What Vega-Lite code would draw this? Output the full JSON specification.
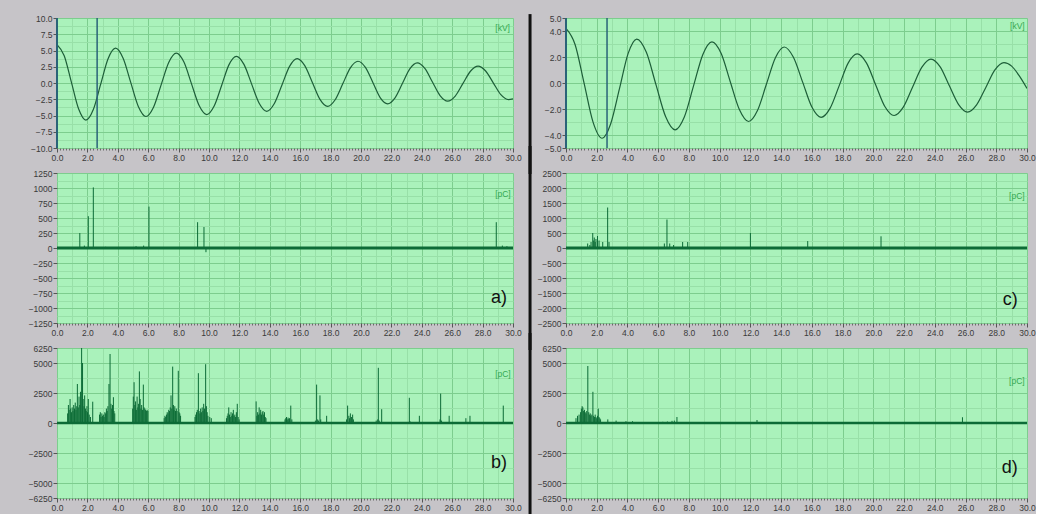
{
"$schema":"https://vega.github.io/schema/vega-lite/v6.json",
"background":"#c6c4c8",
"padding":{"left":28,"top":12,"right":0,"bottom":0},
"config":{"view":{"fill":"#aaf2bb","stroke":null},"axis":{"labelFont":"Liberation Sans","labelFontSize":8.5,"labelColor":"#3a3a3a"},"text":{"font":"Liberation Sans"}},
"datasets":{
"waveL":[{"t":0,"v":5.9},{"t":0.475,"v":4.2},{"t":0.95,"v":0.1},{"t":1.425,"v":-4.0},{"t":1.9,"v":-5.7},{"t":2.39,"v":-4.08},{"t":2.875,"v":-0.18},{"t":3.36,"v":3.73},{"t":3.85,"v":5.35},{"t":4.35,"v":3.81},{"t":4.85,"v":0.1},{"t":5.35,"v":-3.61},{"t":5.85,"v":-5.15},{"t":6.35,"v":-3.72},{"t":6.85,"v":-0.28},{"t":7.35,"v":3.17},{"t":7.85,"v":4.6},{"t":8.35,"v":3.22},{"t":8.85,"v":-0.13},{"t":9.35,"v":-3.47},{"t":9.85,"v":-4.85},{"t":10.34,"v":-3.54},{"t":10.83,"v":-0.38},{"t":11.31,"v":2.79},{"t":11.8,"v":4.1},{"t":12.3,"v":2.86},{"t":12.8,"v":-0.13},{"t":13.3,"v":-3.11},{"t":13.8,"v":-4.35},{"t":14.3,"v":-3.16},{"t":14.8,"v":-0.3},{"t":15.3,"v":2.56},{"t":15.8,"v":3.75},{"t":16.3,"v":2.67},{"t":16.8,"v":0.08},{"t":17.3,"v":-2.52},{"t":17.8,"v":-3.6},{"t":18.3,"v":-2.58},{"t":18.8,"v":-0.13},{"t":19.3,"v":2.33},{"t":19.8,"v":3.35},{"t":20.29,"v":2.39},{"t":20.78,"v":0.08},{"t":21.26,"v":-2.24},{"t":21.75,"v":-3.2},{"t":22.24,"v":-2.28},{"t":22.73,"v":-0.05},{"t":23.21,"v":2.18},{"t":23.7,"v":3.1},{"t":24.2,"v":2.24},{"t":24.7,"v":0.15},{"t":25.2,"v":-1.94},{"t":25.7,"v":-2.8},{"t":26.2,"v":-2.01},{"t":26.7,"v":-0.1},{"t":27.2,"v":1.81},{"t":27.7,"v":2.6},{"t":28.2,"v":1.85},{"t":28.7,"v":0.03},{"t":29.2,"v":-1.8},{"t":29.7,"v":-2.55},{"t":30,"v":-2.45}],
"waveR":[{"t":0,"v":4.2},{"t":0.59,"v":2.96},{"t":1.18,"v":-0.03},{"t":1.76,"v":-3.01},{"t":2.35,"v":-4.25},{"t":2.91,"v":-3.13},{"t":3.48,"v":-0.44},{"t":4.04,"v":2.26},{"t":4.6,"v":3.38},{"t":5.23,"v":2.36},{"t":5.85,"v":-0.11},{"t":6.48,"v":-2.58},{"t":7.1,"v":-3.6},{"t":7.7,"v":-2.61},{"t":8.3,"v":-0.22},{"t":8.9,"v":2.18},{"t":9.5,"v":3.17},{"t":10.1,"v":2.27},{"t":10.69,"v":0.1},{"t":11.29,"v":-2.06},{"t":11.88,"v":-2.96},{"t":12.46,"v":-2.12},{"t":13.04,"v":-0.1},{"t":13.62,"v":1.93},{"t":14.2,"v":2.77},{"t":14.8,"v":1.98},{"t":15.4,"v":0.07},{"t":16.0,"v":-1.85},{"t":16.6,"v":-2.64},{"t":17.19,"v":-1.93},{"t":17.78,"v":-0.2},{"t":18.36,"v":1.53},{"t":18.95,"v":2.24},{"t":19.55,"v":1.55},{"t":20.15,"v":-0.13},{"t":20.75,"v":-1.81},{"t":21.35,"v":-2.5},{"t":21.95,"v":-1.86},{"t":22.55,"v":-0.33},{"t":23.15,"v":1.2},{"t":23.75,"v":1.84},{"t":24.35,"v":1.24},{"t":24.94,"v":-0.2},{"t":25.54,"v":-1.64},{"t":26.13,"v":-2.24},{"t":26.72,"v":-1.68},{"t":27.32,"v":-0.34},{"t":27.91,"v":1.01},{"t":28.5,"v":1.57},{"t":29.0,"v":1.3},{"t":29.5,"v":0.55},{"t":30,"v":-0.42}],
"spA":[{"t":1.5,"v":250},{"t":1.8,"v":40},{"t":2.06,"v":530},{"t":2.39,"v":1010},{"t":3.2,"v":20},{"t":5.2,"v":30},{"t":5.7,"v":40},{"t":6.05,"v":690},{"t":9.25,"v":430},{"t":9.67,"v":350},{"t":9.8,"v":-70},{"t":28.9,"v":430},{"t":29.3,"v":40},{"t":29.6,"v":30}],
"spC":[{"t":1.41,"v":150},{"t":1.55,"v":100},{"t":1.63,"v":200},{"t":1.74,"v":500},{"t":1.8,"v":250},{"t":1.84,"v":350},{"t":1.9,"v":200},{"t":1.95,"v":300},{"t":2.05,"v":400},{"t":2.15,"v":250},{"t":2.39,"v":200},{"t":2.71,"v":1350},{"t":2.8,"v":200},{"t":6.4,"v":150},{"t":6.57,"v":950},{"t":6.75,"v":150},{"t":7.0,"v":100},{"t":7.59,"v":200},{"t":7.92,"v":200},{"t":12.0,"v":500},{"t":15.73,"v":230},{"t":20.5,"v":390},{"t":22.1,"v":40}],
"spB":[{"t":0.7,"v":800},{"t":0.75,"v":1500},{"t":0.8,"v":1100},{"t":0.86,"v":2000},{"t":0.9,"v":1200},{"t":0.95,"v":900},{"t":1.0,"v":1300},{"t":1.05,"v":1000},{"t":1.1,"v":1500},{"t":1.15,"v":1200},{"t":1.2,"v":1700},{"t":1.25,"v":1100},{"t":1.3,"v":1400},{"t":1.34,"v":3250},{"t":1.4,"v":1300},{"t":1.45,"v":2200},{"t":1.5,"v":1500},{"t":1.55,"v":2600},{"t":1.62,"v":6500},{"t":1.68,"v":5000},{"t":1.72,"v":2000},{"t":1.78,"v":1400},{"t":1.82,"v":2300},{"t":1.88,"v":1200},{"t":1.92,"v":1000},{"t":1.97,"v":1400},{"t":2.01,"v":900},{"t":2.06,"v":2000},{"t":2.12,"v":700},{"t":2.2,"v":500},{"t":2.35,"v":1775},
{"t":2.8,"v":700},{"t":2.85,"v":900},{"t":2.9,"v":500},{"t":2.95,"v":800},{"t":3.0,"v":600},{"t":3.05,"v":700},{"t":3.1,"v":500},{"t":3.15,"v":900},{"t":3.2,"v":800},{"t":3.25,"v":1200},{"t":3.3,"v":1000},{"t":3.35,"v":1400},{"t":3.42,"v":3250},{"t":3.49,"v":5750},{"t":3.55,"v":1600},{"t":3.6,"v":1200},{"t":3.65,"v":1500},{"t":3.71,"v":2150},{"t":3.75,"v":1000},{"t":3.8,"v":800},
{"t":4.98,"v":1200},{"t":5.02,"v":2200},{"t":5.07,"v":3400},{"t":5.12,"v":1500},{"t":5.17,"v":1800},{"t":5.22,"v":1100},{"t":5.27,"v":2200},{"t":5.32,"v":1300},{"t":5.37,"v":1600},{"t":5.42,"v":4300},{"t":5.47,"v":2000},{"t":5.52,"v":1200},{"t":5.57,"v":1500},{"t":5.62,"v":1100},{"t":5.68,"v":3200},{"t":5.73,"v":1300},{"t":5.78,"v":1200},{"t":5.83,"v":1100},{"t":5.88,"v":1000},{"t":5.93,"v":1100},{"t":5.98,"v":1000},
{"t":7.05,"v":400},{"t":7.1,"v":600},{"t":7.15,"v":500},{"t":7.2,"v":700},{"t":7.25,"v":900},{"t":7.3,"v":800},{"t":7.35,"v":1100},{"t":7.4,"v":1000},{"t":7.45,"v":1300},{"t":7.5,"v":2300},{"t":7.55,"v":1200},{"t":7.61,"v":4700},{"t":7.66,"v":1500},{"t":7.7,"v":1100},{"t":7.75,"v":1400},{"t":7.8,"v":1000},{"t":7.85,"v":1200},{"t":7.9,"v":1000},{"t":7.98,"v":4350},{"t":8.03,"v":900},{"t":8.08,"v":800},{"t":8.13,"v":600},
{"t":9.08,"v":500},{"t":9.13,"v":700},{"t":9.18,"v":900},{"t":9.23,"v":1100},{"t":9.3,"v":4150},{"t":9.35,"v":1000},{"t":9.4,"v":800},{"t":9.45,"v":1200},{"t":9.5,"v":900},{"t":9.55,"v":1300},{"t":9.6,"v":1000},{"t":9.65,"v":1600},{"t":9.7,"v":1200},{"t":9.78,"v":4900},{"t":9.83,"v":1400},{"t":9.88,"v":900},{"t":9.93,"v":600},{"t":10.05,"v":500},{"t":10.15,"v":400},
{"t":11.15,"v":400},{"t":11.2,"v":600},{"t":11.25,"v":800},{"t":11.3,"v":1300},{"t":11.35,"v":700},{"t":11.4,"v":500},{"t":11.45,"v":900},{"t":11.5,"v":600},{"t":11.55,"v":800},{"t":11.6,"v":1100},{"t":11.65,"v":600},{"t":11.7,"v":700},{"t":11.75,"v":500},{"t":11.8,"v":900},{"t":11.86,"v":1600},{"t":11.92,"v":500},{"t":11.98,"v":300},
{"t":13.1,"v":1800},{"t":13.15,"v":600},{"t":13.2,"v":900},{"t":13.25,"v":700},{"t":13.3,"v":1300},{"t":13.35,"v":800},{"t":13.4,"v":1100},{"t":13.45,"v":700},{"t":13.5,"v":900},{"t":13.55,"v":1000},{"t":13.6,"v":700},{"t":13.65,"v":900},{"t":13.7,"v":500},{"t":13.75,"v":400},
{"t":15.0,"v":300},{"t":15.05,"v":400},{"t":15.1,"v":500},{"t":15.15,"v":300},{"t":15.2,"v":450},{"t":15.25,"v":350},{"t":15.3,"v":400},{"t":15.38,"v":1450},{"t":15.45,"v":300},
{"t":17.0,"v":200},{"t":17.08,"v":3200},{"t":17.15,"v":300},{"t":17.2,"v":200},{"t":17.3,"v":2300},{"t":17.35,"v":300},{"t":17.74,"v":600},
{"t":19.05,"v":300},{"t":19.12,"v":1450},{"t":19.2,"v":600},{"t":19.25,"v":400},{"t":19.3,"v":800},{"t":19.38,"v":500},{"t":19.45,"v":700},{"t":19.5,"v":300},
{"t":21.0,"v":200},{"t":21.1,"v":300},{"t":21.14,"v":4600},{"t":21.2,"v":200},{"t":21.36,"v":1150},
{"t":23.18,"v":2100},{"t":23.22,"v":150},{"t":23.84,"v":600},{"t":25.2,"v":300},{"t":25.24,"v":2450},{"t":25.3,"v":200},{"t":25.8,"v":600},{"t":26.9,"v":400},{"t":27.17,"v":600},{"t":29.36,"v":1450}],
"spD":[{"t":0.65,"v":400},{"t":0.75,"v":600},{"t":0.85,"v":700},{"t":0.95,"v":900},{"t":1.0,"v":1200},{"t":1.05,"v":1400},{"t":1.1,"v":1300},{"t":1.15,"v":1000},{"t":1.2,"v":1100},{"t":1.25,"v":900},{"t":1.3,"v":800},{"t":1.35,"v":1000},{"t":1.42,"v":4750},{"t":1.48,"v":900},{"t":1.52,"v":700},{"t":1.58,"v":800},{"t":1.62,"v":600},{"t":1.68,"v":700},{"t":1.75,"v":2600},{"t":1.8,"v":600},{"t":1.85,"v":500},{"t":1.9,"v":700},{"t":1.95,"v":500},{"t":2.0,"v":400},{"t":2.05,"v":600},{"t":2.1,"v":1200},{"t":2.15,"v":500},{"t":2.2,"v":400},{"t":2.25,"v":300},{"t":2.72,"v":300},{"t":3.26,"v":200},{"t":3.9,"v":150},{"t":4.33,"v":150},{"t":6.3,"v":100},{"t":6.6,"v":120},{"t":6.9,"v":180},{"t":7.05,"v":200},{"t":7.22,"v":500},{"t":12.43,"v":250},{"t":25.8,"v":480}]
},
"columns":2,
"spacing":{"row":25,"column":53},
"bounds":"flush",
"concat":[
{"width":456,"height":130,"resolve":{"axis":{"x":"independent","y":"independent"}},
"layer":[
{"data":{"name":"waveL"},"mark":{"type":"line","opacity":0},"encoding":{
"x":{"field":"t","type":"quantitative","scale":{"domain":[0,30],"nice":false,"zero":false},"axis":{"orient":"bottom","title":null,"values":[1,3,5,7,9,11,13,15,17,19,21,23,25,27,29],"grid":true,"gridColor":"#98e0a8","labels":false,"ticks":false,"domain":false}},
"y":{"field":"v","type":"quantitative","scale":{"domain":[-10,10],"nice":false,"zero":false},"axis":{"orient":"left","title":null,"values":[8.75,6.25,3.75,1.25,-1.25,-3.75,-6.25,-8.75],"grid":true,"gridColor":"#98e0a8","labels":false,"ticks":false,"domain":false}}}},
{"data":{"name":"waveL"},"mark":{"type":"line","opacity":0},"encoding":{
"x":{"field":"t","type":"quantitative","axis":{"orient":"bottom","title":null,"tickCount":150,"grid":false,"labels":false,"domain":false,"ticks":true,"tickSize":2,"tickColor":"#6a6a6a"}},
"y":{"field":"v","type":"quantitative","axis":null}}},
{"data":{"name":"waveL"},"mark":{"type":"line","color":"#1d5e38","strokeWidth":1.2,"interpolate":"monotone","clip":true},"encoding":{
"x":{"field":"t","type":"quantitative","axis":{"orient":"bottom","title":null,"values":[0,2,4,6,8,10,12,14,16,18,20,22,24,26,28,30],"format":".1f","grid":true,"gridColor":"#7dcd8e","domain":false,"tickSize":4,"tickColor":"#555","labelPadding":1,"labelFlush":false,"labelOverlap":false}},
"y":{"field":"v","type":"quantitative","axis":{"orient":"left","title":null,"values":[10,7.5,5,2.5,0,-2.5,-5,-7.5,-10],"format":".1f","grid":true,"gridColor":"#7dcd8e","domain":false,"tickSize":4,"tickColor":"#555","labelPadding":1,"labelOverlap":false}}}},
{"data":{"values":[{"c":0,"w":2},{"c":2.64,"w":1.5}]},"mark":{"type":"rule","color":"#2a6378"},"encoding":{"x":{"field":"c","type":"quantitative","axis":null},"strokeWidth":{"field":"w","type":"quantitative","scale":null}}},
{"data":{"values":[{}]},"mark":{"type":"text","text":"[kV]","align":"right","baseline":"middle","color":"#34a852","fontSize":8.5},"encoding":{"x":{"datum":29.8,"axis":null},"y":{"datum":8.4,"axis":null}}}
]},
{"width":461,"height":130,"resolve":{"axis":{"x":"independent","y":"independent"}},
"layer":[
{"data":{"name":"waveR"},"mark":{"type":"line","opacity":0},"encoding":{
"x":{"field":"t","type":"quantitative","scale":{"domain":[0,30],"nice":false,"zero":false},"axis":{"orient":"bottom","title":null,"values":[1,3,5,7,9,11,13,15,17,19,21,23,25,27,29],"grid":true,"gridColor":"#98e0a8","labels":false,"ticks":false,"domain":false}},
"y":{"field":"v","type":"quantitative","scale":{"domain":[-5,5],"nice":false,"zero":false},"axis":{"orient":"left","title":null,"values":[3,1,-1,-3],"grid":true,"gridColor":"#98e0a8","labels":false,"ticks":false,"domain":false}}}},
{"data":{"name":"waveR"},"mark":{"type":"line","opacity":0},"encoding":{
"x":{"field":"t","type":"quantitative","axis":{"orient":"bottom","title":null,"tickCount":150,"grid":false,"labels":false,"domain":false,"ticks":true,"tickSize":2,"tickColor":"#6a6a6a"}},
"y":{"field":"v","type":"quantitative","axis":null}}},
{"data":{"name":"waveR"},"mark":{"type":"line","color":"#1d5e38","strokeWidth":1.2,"interpolate":"monotone","clip":true},"encoding":{
"x":{"field":"t","type":"quantitative","axis":{"orient":"bottom","title":null,"values":[0,2,4,6,8,10,12,14,16,18,20,22,24,26,28,30],"format":".1f","grid":true,"gridColor":"#7dcd8e","domain":false,"tickSize":4,"tickColor":"#555","labelPadding":1,"labelFlush":false,"labelOverlap":false}},
"y":{"field":"v","type":"quantitative","axis":{"orient":"left","title":null,"values":[5,4,2,0,-2,-4,-5],"format":".1f","grid":true,"gridColor":"#7dcd8e","domain":false,"tickSize":4,"tickColor":"#555","labelPadding":1,"labelOverlap":false}}}},
{"data":{"values":[{"c":0,"w":2},{"c":2.67,"w":1.5}]},"mark":{"type":"rule","color":"#2a6378"},"encoding":{"x":{"field":"c","type":"quantitative","axis":null},"strokeWidth":{"field":"w","type":"quantitative","scale":null}}},
{"data":{"values":[{}]},"mark":{"type":"rule","color":"#111111","strokeWidth":3},"encoding":{"x":{"datum":-2.34,"axis":null},"y":{"datum":-7,"axis":null},"y2":{"datum":5.3}}},
{"data":{"values":[{}]},"mark":{"type":"text","text":"[kV]","align":"right","baseline":"middle","color":"#34a852","fontSize":8.5},"encoding":{"x":{"datum":29.85,"axis":null},"y":{"datum":4.4,"axis":null}}}
]},
{"width":456,"height":150,"resolve":{"axis":{"x":"independent","y":"independent"}},
"layer":[
{"data":{"name":"spA"},"mark":{"type":"line","opacity":0},"encoding":{
"x":{"field":"t","type":"quantitative","scale":{"domain":[0,30],"nice":false,"zero":false},"axis":{"orient":"bottom","title":null,"values":[1,3,5,7,9,11,13,15,17,19,21,23,25,27,29],"grid":true,"gridColor":"#98e0a8","labels":false,"ticks":false,"domain":false}},
"y":{"field":"v","type":"quantitative","scale":{"domain":[-1250,1250],"nice":false,"zero":false},"axis":{"orient":"left","title":null,"values":[1125,875,625,375,125,-125,-375,-625,-875,-1125],"grid":true,"gridColor":"#98e0a8","labels":false,"ticks":false,"domain":false}}}},
{"data":{"name":"spA"},"mark":{"type":"line","opacity":0},"encoding":{
"x":{"field":"t","type":"quantitative","axis":{"orient":"bottom","title":null,"tickCount":150,"grid":false,"labels":false,"domain":false,"ticks":true,"tickSize":2,"tickColor":"#6a6a6a"}},
"y":{"field":"v","type":"quantitative","axis":null}}},
{"data":{"name":"spA"},"mark":{"type":"rule","color":"#0c6b36","strokeWidth":1,"clip":true},"encoding":{
"x":{"field":"t","type":"quantitative","axis":{"orient":"bottom","title":null,"values":[0,2,4,6,8,10,12,14,16,18,20,22,24,26,28,30],"format":".1f","grid":true,"gridColor":"#7dcd8e","domain":false,"tickSize":4,"tickColor":"#555","labelPadding":1,"labelFlush":false,"labelOverlap":false}},
"y":{"field":"v","type":"quantitative","axis":{"orient":"left","title":null,"values":[1250,1000,750,500,250,0,-250,-500,-750,-1000,-1250],"format":"d","grid":true,"gridColor":"#7dcd8e","domain":false,"tickSize":4,"tickColor":"#555","labelPadding":1,"labelOverlap":false}},
"y2":{"datum":0}}},
{"data":{"values":[{}]},"mark":{"type":"rule","color":"#0c6b36","strokeWidth":3},"encoding":{"y":{"datum":0,"axis":null}}},
{"data":{"values":[{"s":"[pC]","x":29.85,"y":900,"f":8.5,"c":"#34a852"},{"s":"a)","x":29.6,"y":-830,"f":18,"c":"#111111"}]},"mark":{"type":"text","align":"right","baseline":"middle"},"encoding":{"x":{"field":"x","type":"quantitative","axis":null},"y":{"field":"y","type":"quantitative","axis":null},"text":{"field":"s"},"size":{"field":"f","type":"quantitative","scale":null},"color":{"field":"c","type":"nominal","scale":null}}}
]},
{"width":461,"height":150,"resolve":{"axis":{"x":"independent","y":"independent"}},
"layer":[
{"data":{"name":"spC"},"mark":{"type":"line","opacity":0},"encoding":{
"x":{"field":"t","type":"quantitative","scale":{"domain":[0,30],"nice":false,"zero":false},"axis":{"orient":"bottom","title":null,"values":[1,3,5,7,9,11,13,15,17,19,21,23,25,27,29],"grid":true,"gridColor":"#98e0a8","labels":false,"ticks":false,"domain":false}},
"y":{"field":"v","type":"quantitative","scale":{"domain":[-2500,2500],"nice":false,"zero":false},"axis":{"orient":"left","title":null,"values":[2250,1750,1250,750,250,-250,-750,-1250,-1750,-2250],"grid":true,"gridColor":"#98e0a8","labels":false,"ticks":false,"domain":false}}}},
{"data":{"name":"spC"},"mark":{"type":"line","opacity":0},"encoding":{
"x":{"field":"t","type":"quantitative","axis":{"orient":"bottom","title":null,"tickCount":150,"grid":false,"labels":false,"domain":false,"ticks":true,"tickSize":2,"tickColor":"#6a6a6a"}},
"y":{"field":"v","type":"quantitative","axis":null}}},
{"data":{"name":"spC"},"mark":{"type":"rule","color":"#0c6b36","strokeWidth":1,"clip":true},"encoding":{
"x":{"field":"t","type":"quantitative","axis":{"orient":"bottom","title":null,"values":[0,2,4,6,8,10,12,14,16,18,20,22,24,26,28,30],"format":".1f","grid":true,"gridColor":"#7dcd8e","domain":false,"tickSize":4,"tickColor":"#555","labelPadding":1,"labelFlush":false,"labelOverlap":false}},
"y":{"field":"v","type":"quantitative","axis":{"orient":"left","title":null,"values":[2500,2000,1500,1000,500,0,-500,-1000,-1500,-2000,-2500],"format":"d","grid":true,"gridColor":"#7dcd8e","domain":false,"tickSize":4,"tickColor":"#555","labelPadding":1,"labelOverlap":false}},
"y2":{"datum":0}}},
{"data":{"values":[{}]},"mark":{"type":"rule","color":"#0c6b36","strokeWidth":3},"encoding":{"y":{"datum":0,"axis":null}}},
{"data":{"values":[{}]},"mark":{"type":"rule","color":"#111111","strokeWidth":3},"encoding":{"x":{"datum":-2.34,"axis":null},"y":{"datum":-3400,"axis":null},"y2":{"datum":3400}}},
{"data":{"values":[{"s":"[pC]","x":29.85,"y":1730,"f":8.5,"c":"#34a852"},{"s":"c)","x":29.4,"y":-1730,"f":18,"c":"#111111"}]},"mark":{"type":"text","align":"right","baseline":"middle"},"encoding":{"x":{"field":"x","type":"quantitative","axis":null},"y":{"field":"y","type":"quantitative","axis":null},"text":{"field":"s"},"size":{"field":"f","type":"quantitative","scale":null},"color":{"field":"c","type":"nominal","scale":null}}}
]},
{"width":456,"height":150,"resolve":{"axis":{"x":"independent","y":"independent"}},
"layer":[
{"data":{"name":"spB"},"mark":{"type":"line","opacity":0},"encoding":{
"x":{"field":"t","type":"quantitative","scale":{"domain":[0,30],"nice":false,"zero":false},"axis":{"orient":"bottom","title":null,"values":[1,3,5,7,9,11,13,15,17,19,21,23,25,27,29],"grid":true,"gridColor":"#98e0a8","labels":false,"ticks":false,"domain":false}},
"y":{"field":"v","type":"quantitative","scale":{"domain":[-6250,6250],"nice":false,"zero":false},"axis":{"orient":"left","title":null,"values":[3750,1250,-1250,-3750],"grid":true,"gridColor":"#98e0a8","labels":false,"ticks":false,"domain":false}}}},
{"data":{"name":"spB"},"mark":{"type":"line","opacity":0},"encoding":{
"x":{"field":"t","type":"quantitative","axis":{"orient":"bottom","title":null,"tickCount":150,"grid":false,"labels":false,"domain":false,"ticks":true,"tickSize":2,"tickColor":"#6a6a6a"}},
"y":{"field":"v","type":"quantitative","axis":null}}},
{"data":{"name":"spB"},"mark":{"type":"rule","color":"#0c6b36","strokeWidth":1,"clip":true},"encoding":{
"x":{"field":"t","type":"quantitative","axis":{"orient":"bottom","title":null,"values":[0,2,4,6,8,10,12,14,16,18,20,22,24,26,28,30],"format":".1f","grid":true,"gridColor":"#7dcd8e","domain":false,"tickSize":4,"tickColor":"#555","labelPadding":1,"labelFlush":false,"labelOverlap":false}},
"y":{"field":"v","type":"quantitative","axis":{"orient":"left","title":null,"values":[6250,5000,2500,0,-2500,-5000,-6250],"format":"d","grid":true,"gridColor":"#7dcd8e","domain":false,"tickSize":4,"tickColor":"#555","labelPadding":1,"labelOverlap":false}},
"y2":{"datum":0}}},
{"data":{"values":[{}]},"mark":{"type":"rule","color":"#0c6b36","strokeWidth":2.5},"encoding":{"y":{"datum":0,"axis":null}}},
{"data":{"values":[{"s":"[pC]","x":29.85,"y":4100,"f":8.5,"c":"#34a852"},{"s":"b)","x":29.6,"y":-3300,"f":18,"c":"#111111"}]},"mark":{"type":"text","align":"right","baseline":"middle"},"encoding":{"x":{"field":"x","type":"quantitative","axis":null},"y":{"field":"y","type":"quantitative","axis":null},"text":{"field":"s"},"size":{"field":"f","type":"quantitative","scale":null},"color":{"field":"c","type":"nominal","scale":null}}}
]},
{"width":461,"height":150,"resolve":{"axis":{"x":"independent","y":"independent"}},
"layer":[
{"data":{"name":"spD"},"mark":{"type":"line","opacity":0},"encoding":{
"x":{"field":"t","type":"quantitative","scale":{"domain":[0,30],"nice":false,"zero":false},"axis":{"orient":"bottom","title":null,"values":[1,3,5,7,9,11,13,15,17,19,21,23,25,27,29],"grid":true,"gridColor":"#98e0a8","labels":false,"ticks":false,"domain":false}},
"y":{"field":"v","type":"quantitative","scale":{"domain":[-6250,6250],"nice":false,"zero":false},"axis":{"orient":"left","title":null,"values":[3750,1250,-1250,-3750],"grid":true,"gridColor":"#98e0a8","labels":false,"ticks":false,"domain":false}}}},
{"data":{"name":"spD"},"mark":{"type":"line","opacity":0},"encoding":{
"x":{"field":"t","type":"quantitative","axis":{"orient":"bottom","title":null,"tickCount":150,"grid":false,"labels":false,"domain":false,"ticks":true,"tickSize":2,"tickColor":"#6a6a6a"}},
"y":{"field":"v","type":"quantitative","axis":null}}},
{"data":{"name":"spD"},"mark":{"type":"rule","color":"#0c6b36","strokeWidth":1,"clip":true},"encoding":{
"x":{"field":"t","type":"quantitative","axis":{"orient":"bottom","title":null,"values":[0,2,4,6,8,10,12,14,16,18,20,22,24,26,28,30],"format":".1f","grid":true,"gridColor":"#7dcd8e","domain":false,"tickSize":4,"tickColor":"#555","labelPadding":1,"labelFlush":false,"labelOverlap":false}},
"y":{"field":"v","type":"quantitative","axis":{"orient":"left","title":null,"values":[6250,5000,2500,0,-2500,-5000,-6250],"format":"d","grid":true,"gridColor":"#7dcd8e","domain":false,"tickSize":4,"tickColor":"#555","labelPadding":1,"labelOverlap":false}},
"y2":{"datum":0}}},
{"data":{"values":[{}]},"mark":{"type":"rule","color":"#0c6b36","strokeWidth":2.5},"encoding":{"y":{"datum":0,"axis":null}}},
{"data":{"values":[{}]},"mark":{"type":"rule","color":"#111111","strokeWidth":3},"encoding":{"x":{"datum":-2.34,"axis":null},"y":{"datum":-8000,"axis":null},"y2":{"datum":7500}}},
{"data":{"values":[{"s":"[pC]","x":29.85,"y":3500,"f":8.5,"c":"#34a852"},{"s":"d)","x":29.4,"y":-3720,"f":18,"c":"#111111"}]},"mark":{"type":"text","align":"right","baseline":"middle"},"encoding":{"x":{"field":"x","type":"quantitative","axis":null},"y":{"field":"y","type":"quantitative","axis":null},"text":{"field":"s"},"size":{"field":"f","type":"quantitative","scale":null},"color":{"field":"c","type":"nominal","scale":null}}}
]}
]
}
